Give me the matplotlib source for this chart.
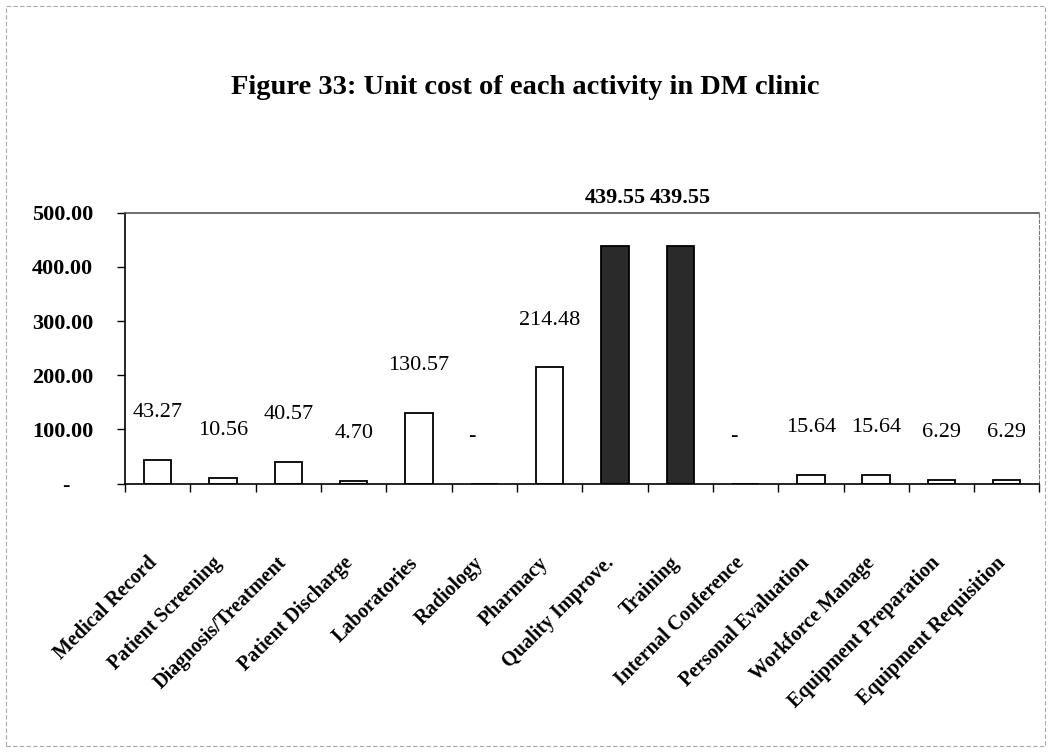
import matplotlib
matplotlib.use("Agg")
import matplotlib.pyplot as plt
from matplotlib.patches import Rectangle

activities = ["Medical Record", "Patient Screening", "Diagnosis/Treatment",
              "Patient Discharge", "Laboratories", "Radiology", "Pharmacy",
              "Quality Improve.", "Training", "Internal Conference",
              "Personal Evaluation", "Workforce Manage", "Equipment Preparation",
              "Equipment Requisition"]
unit_cost = [43.27, 10.56, 40.57, 4.70, 130.57, 0, 214.48,
             439.55, 439.55, 0, 15.64, 15.64, 6.29, 6.29]
highlight = ["Quality Improve.", "Training"]
y_ticks = [0, 100, 200, 300, 400, 500]

plt.rcParams['font.family'] = ['Liberation Serif', 'DejaVu Serif']

fig = plt.figure(figsize=(10.51, 7.52), dpi=100)
ax = fig.add_axes([0.119, 0.357, 0.870, 0.360])

x = list(range(len(activities)))
colors = ["#2a2a2a" if a in highlight else "white" for a in activities]
ax.bar(x, unit_cost, width=0.42, color=colors, edgecolor="black", linewidth=1.3)

for xi, v in zip(x, unit_cost):
    txt = "-    " if v == 0 else f"{v:.2f}"
    bold = v > 400
    ax.annotate(txt, (xi, v), xytext=(0, 34), textcoords="offset points",
                ha="center", va="center", fontsize=16,
                fontweight="bold" if bold else "normal", annotation_clip=False)

ax.set_xlim(-0.5, len(activities) - 0.5)
ax.set_ylim(0, 500)
ax.set_yticks(y_ticks)
ax.set_yticklabels(["-    " if t == 0 else f"{t:.2f}" for t in y_ticks],
                   fontsize=16, fontweight="bold")
ax.set_xticks([i - 0.5 for i in range(len(activities) + 1)], minor=False)
ax.set_xticklabels([])
# labels sit a little left of the category centre, as in the original
ax.set_xticks([xi - 0.17 for xi in x], minor=True)
ax.set_xticklabels(activities, minor=True, rotation=45, ha="right",
                   rotation_mode="anchor", fontsize=14.5, fontweight="bold")
ax.tick_params(axis="x", which="minor", length=0, pad=50)
ax.tick_params(axis="x", which="major", direction="out", length=6, width=1)
ax.tick_params(axis="y", direction="out", length=6, width=1, pad=17)

ax.spines["left"].set_linewidth(1.2)
ax.spines["bottom"].set_linewidth(1.2)
ax.spines["top"].set_color("#555555")
ax.spines["top"].set_linewidth(1.2)
ax.spines["right"].set_color("#777777")
ax.spines["right"].set_linestyle((0, (3, 2)))
ax.spines["right"].set_linewidth(0.8)

fig.text(0.5, 0.884, "Figure 33: Unit cost of each activity in DM clinic",
         ha="center", va="center", fontsize=20.5, fontweight="bold")

fig.patches.append(Rectangle((0.006, 0.008), 0.988, 0.984, transform=fig.transFigure,
                             fill=False, edgecolor="#aaaaaa", linewidth=0.8,
                             linestyle=(0, (4, 2))))

fig.savefig("out.png", dpi=100)
